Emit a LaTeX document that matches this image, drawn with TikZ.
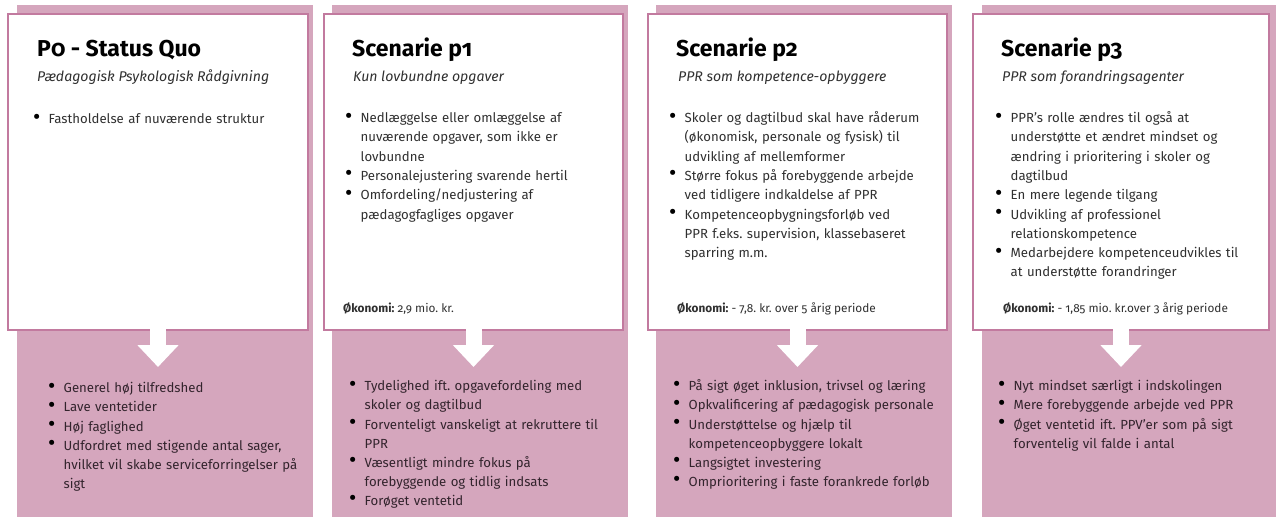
\documentclass[tikz,border=0pt]{standalone}
\usepackage{fontspec}
\setmainfont{Fira Sans}[Numbers=OldStyle]
\usepackage{tikz}
\usetikzlibrary{arrows.meta,positioning}

\definecolor{panelpink}{HTML}{D5A6BD}
\definecolor{cardedge}{HTML}{C27A9F}
\definecolor{bodygrey}{HTML}{303030}
\definecolor{bottomtext}{HTML}{33242D}

\newcommand\tightlines{\lineskip=0pt\relax}
\newcommand\bitem[1]{\par\noindent
  \makebox[15.5pt][l]{\smash{\textcolor{black}{\raisebox{-0.5pt}{\scalebox{1.7}{\textbullet}}}}}%
  \parbox[t]{265pt}{\strut#1\strut}}

\tikzset{
  panel/.style={
    fill=panelpink,
    anchor=north west,
    inner sep=0pt,
    minimum width=296pt,
    minimum height=512pt,
  },
  card/.style={
    draw=cardedge,
    line width=2pt,
    fill=white,
    anchor=north west,
    inner sep=0pt,
    minimum width=299pt,
    minimum height=316pt,
  },
  heading/.style={
    anchor=base west,
    inner sep=0pt,
    font=\bfseries\fontsize{23}{27}\selectfont,
  },
  subheading/.style={
    anchor=base west,
    inner sep=0pt,
    text=bodygrey,
    font=\itshape\fontsize{14.1}{17}\selectfont,
  },
  items/.style={
    anchor=north west,
    inner sep=0pt,
    text width=285pt,
    text=bodygrey,
    font=\fontsize{13.2}{19.3}\selectfont\frenchspacing\tightlines,
  },
  outcome/.style={
    items,
    text=bottomtext,
    font=\fontsize{13.2}{19.1}\selectfont\frenchspacing\tightlines,
  },
  economy/.style={
    anchor=base west,
    inner sep=0pt,
    text=bodygrey,
    font=\fontsize{11.8}{14}\selectfont\frenchspacing,
  },
  flow/.style={
    white,
    line width=16pt,
    -{Triangle[width=40pt,length=22pt]},
  },
}

\begin{document}
\begin{tikzpicture}[x=1pt,y=1pt]
  \useasboundingbox (0,0) rectangle (1277,-517);

  % backgrounds
  \node [panel] (bg1) at (17,-5) {};
  \node [panel] (bg2) at (332,-5) {};
  \node [panel] (bg3) at (656,-5) {};
  \node [panel, minimum width=294pt] (bg4) at (982,-5) {};

  % cards
  \node [card, minimum width=300pt] (card1) at (7,-13) {};
  \node [card] (card2) at (323,-13) {};
  \node [card] (card3) at (647,-13) {};
  \node [card, minimum width=296pt] (card4) at (972,-13) {};

  % arrows
  \coordinate [below=36pt of card1.south] (tip1);
  \coordinate [below=36pt of card2.south] (tip2);
  \coordinate [below=36pt of card3.south] (tip3);
  \coordinate [below=36pt of card4.south] (tip4);
  \draw [flow] ([yshift=2pt]card1.south) -- (tip1);
  \draw [flow] ([yshift=2pt]card2.south) -- (tip2);
  \draw [flow] ([yshift=2pt]card3.south) -- (tip3);
  \draw [flow] ([yshift=2pt]card4.south) -- (tip4);

  % P0
  \node [heading] (title1) at ([shift={(30,-43)}]card1.north west) {P0 - Status Quo};
  \node [subheading] (sub1) at ([shift={(30,-68)}]card1.north west)
    {Pædagogisk Psykologisk Rådgivning};
  \node [items] (now1) at ([shift={(26,-91)}]card1.north west)
    {\bitem{Fastholdelse af nuværende struktur}};
  \node [outcome] (res1) at ([shift={(41,-360.5)}]card1.north west)
    {\bitem{Generel høj tilfredshed}
     \bitem{Lave ventetider}
     \bitem{Høj faglighed}
     \bitem{Udfordret med stigende antal sager,\\hvilket vil skabe serviceforringelser på\\sigt}};

  % p1
  \node [heading] (title2) at ([shift={(29,-43)}]card2.north west) {Scenarie p1};
  \node [subheading] (sub2) at ([shift={(30,-68)}]card2.north west)
    {Kun lovbundne opgaver};
  \node [items] (now2) at ([shift={(22,-90)}]card2.north west)
    {\bitem{Nedlæggelse eller omlæggelse af\\nuværende opgaver, som ikke er\\lovbundne}
     \bitem{Personalejustering svarende hertil}
     \bitem{Omfordeling/nedjustering af\\pædagogfagliges opgaver}};
  \node [economy] (eco2) at ([shift={(20,-299.5)}]card2.north west)
    {\textbf{Økonomi:} 2,9 mio. kr.};
  \node [outcome] (res2) at ([shift={(26,-358.5)}]card2.north west)
    {\bitem{Tydelighed ift. opgavefordeling med\\skoler og dagtilbud}
     \bitem{Forventeligt vanskeligt at rekruttere til\\PPR}
     \bitem{Væsentligt mindre fokus på\\forebyggende og tidlig indsats}
     \bitem{Forøget ventetid}};

  % p2
  \node [heading] (title3) at ([shift={(29,-43)}]card3.north west) {Scenarie p2};
  \node [subheading] (sub3) at ([shift={(31,-68)}]card3.north west)
    {PPR som kompetence-opbyggere};
  \node [items] (now3) at ([shift={(22,-90)}]card3.north west)
    {\bitem{Skoler og dagtilbud skal have råderum\\(økonomisk, personale og fysisk) til\\udvikling af mellemformer}
     \bitem{Større fokus på forebyggende arbejde\\ved tidligere indkaldelse af PPR}
     \bitem{Kompetenceopbygningsforløb ved\\PPR f.eks. supervision, klassebaseret\\sparring m.m.}};
  \node [economy] (eco3) at ([shift={(30,-299.5)}]card3.north west)
    {\textbf{Økonomi:} - 7,8. kr. over 5 årig periode};
  \node [outcome] (res3) at ([shift={(26,-358.5)}]card3.north west)
    {\bitem{På sigt øget inklusion, trivsel og læring}
     \bitem{Opkvalificering af pædagogisk personale}
     \bitem{Understøttelse og hjælp til\\kompetenceopbyggere lokalt}
     \bitem{Langsigtet investering}
     \bitem{Omprioritering i faste forankrede forløb}};

  % p3
  \node [heading] (title4) at ([shift={(29,-43)}]card4.north west) {Scenarie p3};
  \node [subheading] (sub4) at ([shift={(30,-68)}]card4.north west)
    {PPR som forandringsagenter};
  \node [items] (now4) at ([shift={(23,-90)}]card4.north west)
    {\bitem{PPR’s rolle ændres til også at\\understøtte et ændret mindset og\\ændring i prioritering i skoler og\\dagtilbud}
     \bitem{En mere legende tilgang}
     \bitem{Udvikling af professionel\\relationskompetence}
     \bitem{Medarbejdere kompetenceudvikles til\\at understøtte forandringer}};
  \node [economy] (eco4) at ([shift={(31,-299.5)}]card4.north west)
    {\textbf{Økonomi:} - 1,85 mio. kr.over 3 årig periode};
  \node [outcome] (res4) at ([shift={(26,-358.5)}]card4.north west)
    {\bitem{Nyt mindset særligt i indskolingen}
     \bitem{Mere forebyggende arbejde ved PPR}
     \bitem{Øget ventetid ift. PPV’er som på sigt\\forventelig vil falde i antal}};
\end{tikzpicture}
\end{document}
